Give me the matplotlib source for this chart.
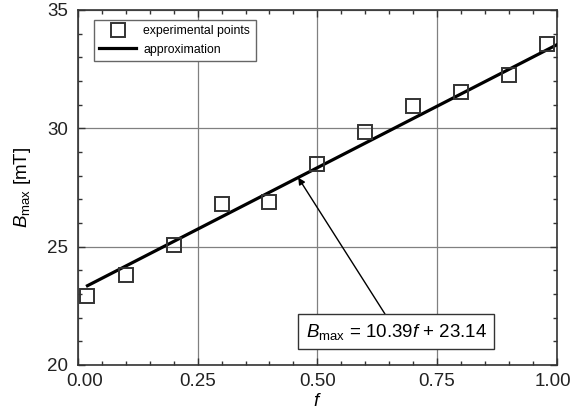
import matplotlib
matplotlib.use("Agg")
import matplotlib.pyplot as plt
from matplotlib.ticker import MultipleLocator
from matplotlib.transforms import ScaledTranslation

plt.rcParams['font.family'] = ['Liberation Sans', 'DejaVu Sans']
plt.rcParams['mathtext.fontset'] = 'custom'
plt.rcParams['mathtext.rm'] = 'Liberation Sans'
plt.rcParams['mathtext.it'] = 'Liberation Sans:italic'

# data
f_points = [0.02, 0.10, 0.20, 0.30, 0.40, 0.50, 0.60, 0.70, 0.80, 0.90, 0.98]
B_points = [22.9, 23.8, 25.05, 26.8, 26.9, 28.5, 29.85, 30.95, 31.55, 32.25, 33.55]
fit_f = [0.02, 1.00]
fit_B = [23.35, 33.53]
x_ticks = [0.00, 0.25, 0.50, 0.75, 1.00]
x_tick_labels = ["0.00", "0.25", "0.50", "0.75", "1.00"]
y_ticks = [20, 25, 30, 35]
equation = r"$B_{\mathrm{max}}$ = 10.39$f$ + 23.14"

FS = 13.5

fig = plt.figure(figsize=(5.74, 4.16), dpi=100)
ax = fig.add_axes([0.1357, 0.1226, 0.8343, 0.8534])

ax.grid(True, which='major', color='#808080', linewidth=0.9)
ax.set_axisbelow(True)

ax.plot(fit_f, fit_B, color='black', linewidth=2.3, label='approximation', zorder=3)
ax.plot(f_points, B_points, linestyle='none', marker='s', markersize=10.5,
        markerfacecolor='none', markeredgecolor='#333333', markeredgewidth=1.4,
        label='experimental points', zorder=4)

ax.set_xlim(0, 1)
ax.set_ylim(20, 35)
ax.set_xticks(x_ticks)
ax.set_xticklabels(x_tick_labels)
ax.set_yticks(y_ticks)
ax.xaxis.set_minor_locator(MultipleLocator(0.05))
ax.yaxis.set_minor_locator(MultipleLocator(1))
ax.tick_params(which='both', direction='in', top=True, right=True, labelsize=FS,
               colors='#333333')
ax.tick_params(axis='x', which='major', pad=6)
ax.tick_params(axis='y', which='major', pad=7)
ax.tick_params(which='major', length=5, width=1.0)
ax.tick_params(which='minor', length=3, width=1.0)
for lbl in ax.get_xticklabels() + ax.get_yticklabels():
    lbl.set_color('#222222')
xl = ax.get_xticklabels()
xl[0].set_transform(xl[0].get_transform() + ScaledTranslation(7 / 100, 0, fig.dpi_scale_trans))
xl[-1].set_transform(xl[-1].get_transform() + ScaledTranslation(-3.5 / 100, 0, fig.dpi_scale_trans))
for sp in ax.spines.values():
    sp.set_linewidth(1.2)
    sp.set_color('#333333')

ax.set_xlabel(r"$f$", fontsize=FS, labelpad=2)
ax.set_ylabel(r"$B_{\mathrm{max}}$ [mT]", fontsize=FS, labelpad=10)

handles, labels = ax.get_legend_handles_labels()
leg = ax.legend(handles[::-1], labels[::-1], loc='upper left',
                bbox_to_anchor=(0.033, 0.972), fontsize=8.8, frameon=True,
                fancybox=False, edgecolor='#666666', framealpha=1,
                handlelength=3.0, handletextpad=0.6, borderpad=0.45,
                borderaxespad=0.0, labelspacing=0.5)
leg.get_frame().set_linewidth(1.0)

ax.annotate(equation, xy=(0.46, 10.39 * 0.46 + 23.14), xytext=(0.665, 21.4),
            fontsize=FS, ha='center', va='center',
            bbox=dict(boxstyle='square,pad=0.4', facecolor='white',
                      edgecolor='#333333', linewidth=1.0),
            arrowprops=dict(arrowstyle='-|>', color='black', linewidth=1.0,
                            mutation_scale=10, shrinkA=0, shrinkB=0),
            zorder=5)

fig.savefig("out.png", dpi=100)
